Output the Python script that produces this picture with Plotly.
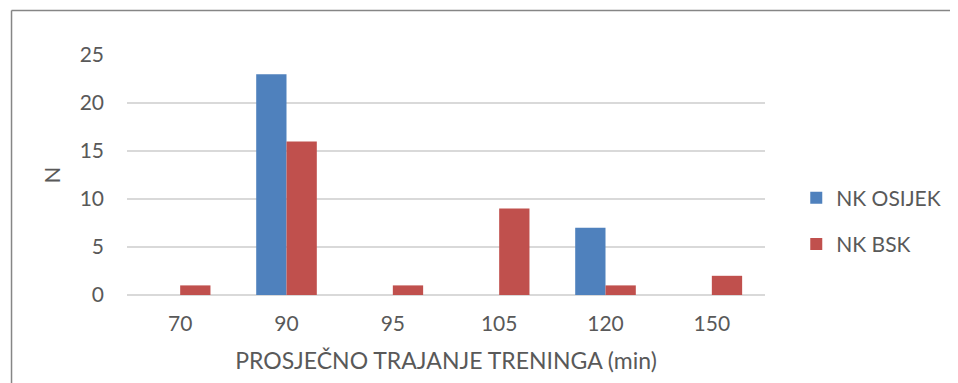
import plotly.graph_objects as go

categories = ["70", "90", "95", "105", "120", "150"]
osijek = [0, 23, 0, 0, 7, 0]
bsk = [1, 16, 1, 9, 1, 2]

text_color = "#595959"
font_family = "Lato, Open Sans, sans-serif"

fig = go.Figure()
fig.add_trace(go.Bar(x=categories, y=osijek, name="NK OSIJEK",
                     marker=dict(color="#4f81bd", line=dict(width=0)),
                     legendgroup="a"))
fig.add_trace(go.Bar(x=categories, y=bsk, name="NK BSK",
                     marker=dict(color="#c0504d", line=dict(width=0)),
                     legendgroup="b"))

# page has an 8px body margin, so the figure is shrunk to fit the window
fig.update_layout(
    width=950, height=375,
    margin=dict(l=119, r=177, t=47, b=88),
    paper_bgcolor="white", plot_bgcolor="white",
    barmode="group", bargap=0.43, bargroupgap=0,
    font=dict(family=font_family, size=21, color=text_color),
    showlegend=True,
    legend=dict(x=1.049, y=0.308, xanchor="left", yanchor="middle",
                tracegroupgap=16, font=dict(size=21, color=text_color),
                itemwidth=30),
    xaxis=dict(type="category", showgrid=False, ticks="", showline=False,
               ticklabelstandoff=14,
               title=dict(text="PROSJEČNO TRAJANJE TRENINGA (min)", standoff=18,
                          font=dict(size=23))),
    yaxis=dict(range=[0, 25], dtick=5, showgrid=True, gridcolor="#d9d9d9",
               gridwidth=1.5, zeroline=True, zerolinecolor="#d9d9d9",
               zerolinewidth=1.5, ticks="", ticklabelstandoff=22,
               title=dict(text="N", standoff=12, font=dict(size=22))),
    shapes=[
        dict(type="line", xref="paper", yref="paper",
             x0=-0.181, x1=-0.181, y0=-0.5, y1=1.185,
             line=dict(color="#868686", width=1.5)),
        dict(type="line", xref="paper", yref="paper",
             x0=-0.181, x1=1.4, y0=1.185, y1=1.185,
             line=dict(color="#868686", width=1.5)),
    ],
)

fig.write_html("out.html")
